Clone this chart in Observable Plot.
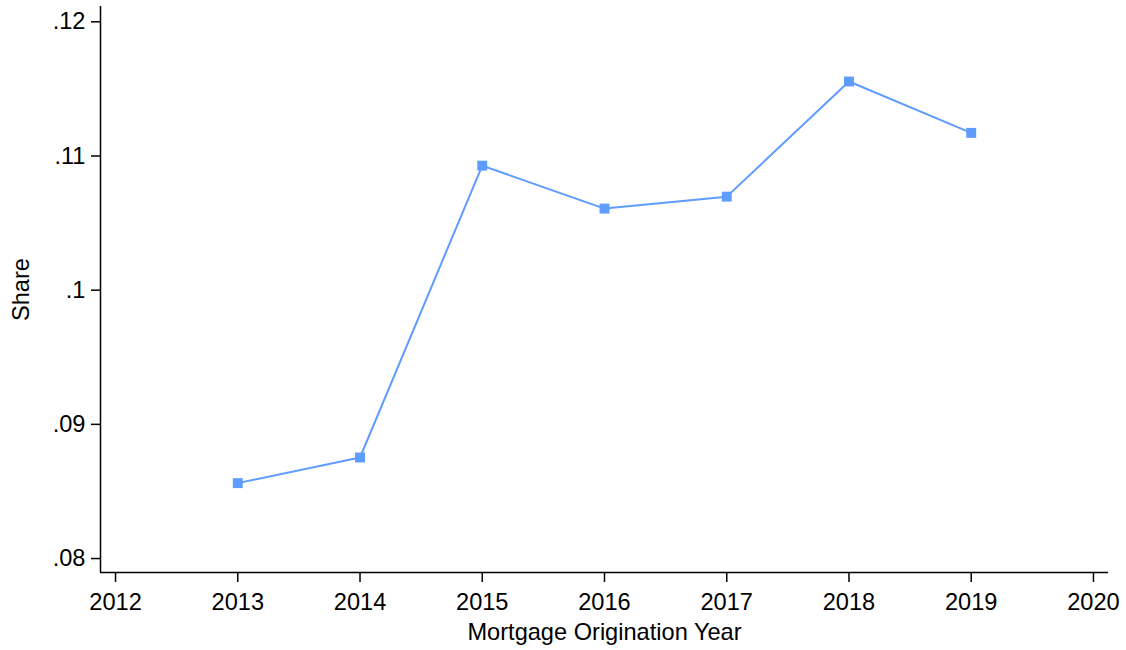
<!DOCTYPE html>
<html>
<head>
<meta charset="utf-8">
<script src="https://cdn.jsdelivr.net/npm/d3@7"></script>
<script src="https://cdn.jsdelivr.net/npm/@observablehq/plot@0.6"></script>
<style>
  html, body { margin: 0; padding: 0; background: #fff; }
  svg { display: block; }
</style>
</head>
<body>
<div id="chart"></div>
<script>
const years = [2013, 2014, 2015, 2016, 2017, 2018, 2019];
const share = [0.08562, 0.08753, 0.10928, 0.10608, 0.10697, 0.11555, 0.11172];
const xTicks = [2012, 2013, 2014, 2015, 2016, 2017, 2018, 2019, 2020];
const yTicks = [0.08, 0.09, 0.10, 0.11, 0.12];
const xLabel = "Mortgage Origination Year";
const yLabel = "Share";

const xDomain = [2011.877, 2020.123];
const yDomain = [0.07896, 0.12114];
const data = years.map((y, i) => ({year: y, share: share[i]}));
const color = "#5f9cff";
const fs = 23.6;

const chart = Plot.plot({
  width: 1126,
  height: 650,
  marginLeft: 100,
  marginRight: 18,
  marginTop: 6,
  marginBottom: 78,
  style: {fontFamily: "'Liberation Sans', Arial, sans-serif", fontSize: fs + "px", color: "#000", background: "#fff"},
  x: {domain: xDomain, label: null},
  y: {domain: yDomain, label: null},
  marks: [
    Plot.axisX({ticks: xTicks, tickFormat: d => String(d), tickSize: 10, tickPadding: 11, strokeWidth: 1.5, fontSize: fs, label: null}),
    Plot.axisY({ticks: yTicks, tickFormat: d => String(+d.toFixed(2)).replace(/^0/, ""), tickSize: 9, tickPadding: 6, strokeWidth: 1.5, fontSize: fs, label: null}),
    Plot.ruleX([xDomain[0]], {stroke: "#000", strokeWidth: 1.5}),
    Plot.ruleY([yDomain[0]], {stroke: "#000", strokeWidth: 1.5}),
    Plot.line(data, {x: "year", y: "share", stroke: color, strokeWidth: 2}),
    Plot.dot(data, {x: "year", y: "share", symbol: "square", r: 5.6, fill: color, stroke: "none"}),
    Plot.text([xLabel], {frameAnchor: "bottom", dy: 60, text: d => d, fontSize: fs, textAnchor: "middle", lineAnchor: "middle", fill: "#000"}),
    Plot.text([yLabel], {frameAnchor: "left", dx: -79, text: d => d, fontSize: fs, rotate: -90, textAnchor: "middle", lineAnchor: "middle", fill: "#000"})
  ]
});
document.getElementById("chart").appendChild(chart);
</script>
</body>
</html>
